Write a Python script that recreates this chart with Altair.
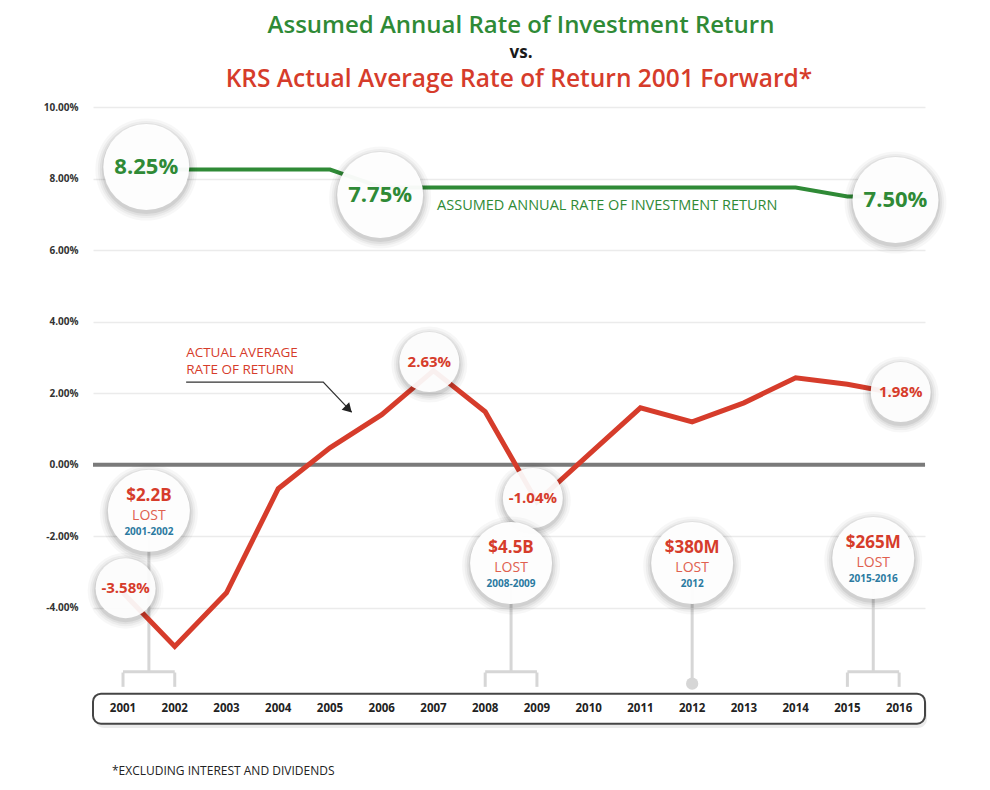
import altair as alt
import pandas as pd

# ---------------- data ----------------
years = [2001, 2002, 2003, 2004, 2005, 2006, 2007, 2008,
         2009, 2010, 2011, 2012, 2013, 2014, 2015, 2016]
actual_return = [-3.58, -5.08, -3.58, -0.67, 0.47, 1.40, 2.63, 1.48,
                 -1.04, 0.28, 1.59, 1.20, 1.73, 2.43, 2.25, 1.98]
assumed_return = [8.25, 8.25, 8.25, 8.25, 8.25, 7.75, 7.75, 7.75,
                  7.75, 7.75, 7.75, 7.75, 7.75, 7.75, 7.50, 7.50]
y_tick_values = [-4, -2, 0, 2, 4, 6, 8, 10]

assumed_badge_text = ["8.25%", "7.75%", "7.50%"]
assumed_badge_year = [2001.45, 2005.97, 2015.93]
assumed_badge_value = [8.32, 7.54, 7.40]

actual_badge_text = ["-3.58%", "2.63%", "-1.04%", "1.98%"]
actual_badge_year = [2001.05, 2006.92, 2008.92, 2016.03]
actual_badge_value = [-3.45, 2.87, -0.93, 2.03]

loss_amount = ["$2.2B", "$4.5B", "$380M", "$265M"]
loss_period = ["2001-2002", "2008-2009", "2012", "2015-2016"]
loss_start = [2001, 2008, 2012, 2015]
loss_end = [2002, 2009, 2012, 2016]
loss_badge_value = [-1.29, -2.75, -2.75, -2.61]

# ---------------- styling ----------------
FONT = "Open Sans"
GREEN = "#2f8a36"
RED = "#d63c2b"
RED_LIGHT = "#e0604f"
BLUE = "#2b7aa1"
ZERO_GRAY = "#7a7a7a"
CONNECT = "#d6d6d6"

W, H = 832, 626
BRACKET_TOP, BRACKET_BOTTOM, DOT_LEVEL = -5.79, -6.21, -6.12
BOX_TOP, BOX_BOTTOM, YEAR_LEVEL = -6.40, -7.24, -6.82

xscale = alt.Scale(domain=[2000.42, 2016.5], nice=False, zero=False)
yscale = alt.Scale(domain=[-7.5, 10], nice=False, zero=False)
yaxis = alt.Axis(values=y_tick_values,
                 labelExpr="replace(format(datum.value, '.2f'), '\u2212', '-') + '%'",
                 domain=False, ticks=False, grid=True, gridColor="#ebebeb",
                 gridWidth=1.5, labelFont=FONT, labelFontSize=10,
                 labelFontWeight="bold", labelColor="#333333",
                 labelPadding=15, title=None)


def X(field="year"):
    return alt.X(f"{field}:Q", scale=xscale, axis=None, title=None)


def Y(field="value"):
    return alt.Y(f"{field}:Q", scale=yscale, axis=yaxis, title=None)


actual_df = pd.DataFrame({"year": years, "value": actual_return})
assumed_df = pd.DataFrame({"year": years, "value": assumed_return})

layers = []

# zero line
layers.append(alt.Chart(pd.DataFrame({"value": [0]}))
              .mark_rule(color=ZERO_GRAY, strokeWidth=4)
              .encode(y=Y()))

# loss connectors and brackets
loss_df = pd.DataFrame({"start": loss_start, "end": loss_end,
                        "amount": loss_amount, "period": loss_period,
                        "value": loss_badge_value})
loss_df["year"] = (loss_df["start"] + loss_df["end"]) / 2
loss_df["is_range"] = loss_df["start"] != loss_df["end"]
loss_df["foot"] = [BRACKET_TOP if r else DOT_LEVEL for r in loss_df["is_range"]]

layers.append(alt.Chart(loss_df).mark_rule(color=CONNECT, strokeWidth=3)
              .encode(x=X(), y=Y(), y2=alt.Y2("foot:Q")))

rng = loss_df[loss_df["is_range"]].copy()
rng["top"] = BRACKET_TOP
layers.append(alt.Chart(rng).mark_rule(color=CONNECT, strokeWidth=3)
              .encode(x=X("start"), x2=alt.X2("end:Q"), y=Y("top")))
legs = pd.concat([
    pd.DataFrame({"year": rng["start"], "top": BRACKET_TOP - 0.02, "bottom": BRACKET_BOTTOM}),
    pd.DataFrame({"year": rng["end"], "top": BRACKET_TOP - 0.02, "bottom": BRACKET_BOTTOM}),
])
layers.append(alt.Chart(legs).mark_rule(color=CONNECT, strokeWidth=3)
              .encode(x=X(), y=Y("top"), y2=alt.Y2("bottom:Q")))
dots = loss_df[~loss_df["is_range"]].copy()
dots["dot"] = DOT_LEVEL
layers.append(alt.Chart(dots).mark_circle(color=CONNECT, opacity=1, size=150)
              .encode(x=X(), y=Y("dot")))

# series lines
layers.append(alt.Chart(assumed_df).mark_line(color=GREEN, strokeWidth=4)
              .encode(x=X(), y=Y()))
layers.append(alt.Chart(actual_df).mark_line(color=RED, strokeWidth=5)
              .encode(x=X(), y=Y()))

# arrow annotation for the actual line
arrow_df = pd.DataFrame({"year": [2002.22, 2004.87, 2005.42],
                         "value": [2.31, 2.31, 1.47]})
layers.append(alt.Chart(arrow_df).mark_line(color="#333333", strokeWidth=1.3)
              .encode(x=X(), y=Y()))
layers.append(alt.Chart(pd.DataFrame({"year": [2005.36], "value": [1.55]}))
              .mark_point(shape="triangle-up", filled=True, size=110,
                          color="#222222", opacity=1, angle=136)
              .encode(x=X(), y=Y()))


def badges(df, diameter, fill_opacity=0.96):
    out = []
    d = df.copy()
    d["shadow"] = d["value"] - 0.07
    for extra, op in [(16, 0.03), (11, 0.04), (7, 0.05), (3, 0.07)]:
        out.append(alt.Chart(d).mark_circle(color="#000000", opacity=op,
                                            size=(diameter + extra) ** 2)
                   .encode(x=X(), y=Y("shadow")))
    out.append(alt.Chart(d).mark_circle(color="#ffffff", opacity=fill_opacity,
                                        size=diameter ** 2)
               .encode(x=X(), y=Y()))
    return out


assumed_b = pd.DataFrame({"year": assumed_badge_year,
                          "value": assumed_badge_value,
                          "label": assumed_badge_text})
actual_b = pd.DataFrame({"year": actual_badge_year,
                         "value": actual_badge_value,
                         "label": actual_badge_text})

layers += badges(assumed_b, 86)
layers += badges(actual_b, 60, 0.93)
layers += badges(loss_df, 82)

layers.append(alt.Chart(assumed_b).mark_text(font=FONT, fontSize=22,
                                             fontWeight="bold", color=GREEN)
              .encode(x=X(), y=Y(), text="label:N"))
layers.append(alt.Chart(actual_b).mark_text(font=FONT, fontSize=15,
                                            fontWeight="bold", color=RED)
              .encode(x=X(), y=Y(), text="label:N"))
layers.append(alt.Chart(loss_df).mark_text(font=FONT, fontSize=17,
                                           fontWeight="bold", color=RED, dy=-15)
              .encode(x=X(), y=Y(), text="amount:N"))
layers.append(alt.Chart(loss_df).mark_text(font=FONT, fontSize=14,
                                           color=RED_LIGHT, dy=5, text="LOST")
              .encode(x=X(), y=Y()))
layers.append(alt.Chart(loss_df).mark_text(font=FONT, fontSize=10,
                                           fontWeight="bold", color=BLUE, dy=21)
              .encode(x=X(), y=Y(), text="period:N"))

# series labels
layers.append(alt.Chart(pd.DataFrame({"year": [2007.07], "value": [7.23],
                                      "t": ["ASSUMED ANNUAL RATE OF INVESTMENT RETURN"]}))
              .mark_text(font=FONT, fontSize=14.5, color=GREEN, align="left")
              .encode(x=X(), y=Y(), text="t:N"))
layers.append(alt.Chart(pd.DataFrame({"year": [2002.22, 2002.22], "value": [3.13, 2.64],
                                      "t": ["ACTUAL AVERAGE", "RATE OF RETURN"]}))
              .mark_text(font=FONT, fontSize=13.5, color=RED, align="left")
              .encode(x=X(), y=Y(), text="t:N"))

# year box + labels
box = pd.DataFrame({"value": [BOX_TOP], "value2": [BOX_BOTTOM]})
box_sh = pd.DataFrame({"value": [BOX_TOP - 0.08], "value2": [BOX_BOTTOM - 0.12]})
layers.append(alt.Chart(box_sh).mark_rect(color="#000000", opacity=0.08, cornerRadius=9)
              .encode(x=alt.value(2), x2=alt.value(W + 2), y=Y(), y2=alt.Y2("value2:Q")))
layers.append(alt.Chart(box).mark_rect(fill="#ffffff", stroke="#454545",
                                       strokeWidth=2, cornerRadius=8)
              .encode(x=alt.value(0), x2=alt.value(W), y=Y(), y2=alt.Y2("value2:Q")))
year_lab = pd.DataFrame({"year": years, "value": YEAR_LEVEL,
                         "t": [str(y) for y in years]})
layers.append(alt.Chart(year_lab).mark_text(font=FONT, fontSize=11.5,
                                            fontWeight="bold", color="#222222")
              .encode(x=X(), y=Y(), text="t:N"))

# titles and footnote
layers.append(alt.Chart(pd.DataFrame({"a": [0]})).mark_text(
    font=FONT, fontSize=24, fontWeight=600, color=GREEN,
    text="Assumed Annual Rate of Investment Return")
    .encode(x=alt.value(428), y=alt.value(-81)))
layers.append(alt.Chart(pd.DataFrame({"a": [0]})).mark_text(
    font=FONT, fontSize=17, fontWeight="bold", color="#1a1a1a", text="vs.")
    .encode(x=alt.value(428), y=alt.value(-54)))
layers.append(alt.Chart(pd.DataFrame({"a": [0]})).mark_text(
    font=FONT, fontSize=24.5, fontWeight=600, color=RED,
    text="KRS Actual Average Rate of Return 2001 Forward*")
    .encode(x=alt.value(426), y=alt.value(-27)))
layers.append(alt.Chart(pd.DataFrame({"a": [0]})).mark_text(
    font=FONT, fontSize=12, color="#222222", align="left",
    text="*EXCLUDING INTEREST AND DIVIDENDS")
    .encode(x=alt.value(19), y=alt.value(664)))

chart = alt.layer(*layers).properties(
    width=W, height=H,
    autosize=alt.AutoSizeParams(type="none"),
    padding={"left": 85, "top": 99, "right": 57, "bottom": 48},
    background="white",
).configure_view(stroke=None)

chart.save("out.html", embed_options={"renderer": "svg", "actions": False})
